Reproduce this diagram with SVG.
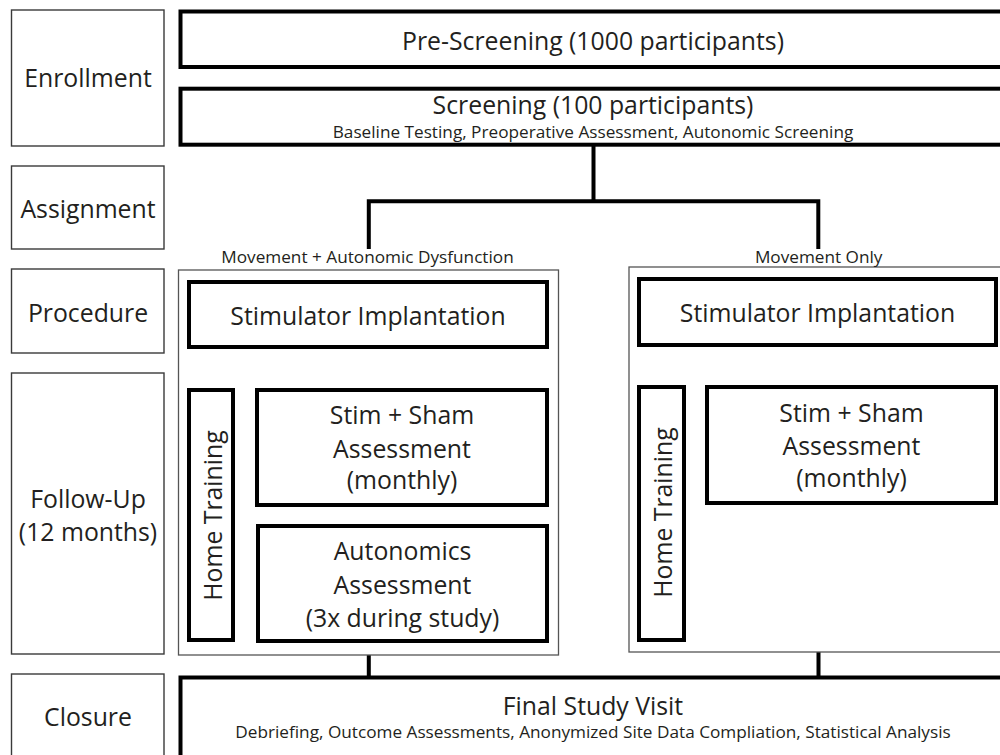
<svg xmlns="http://www.w3.org/2000/svg" width="1000" height="755" viewBox="0 0 1000 755">
<style>
text{font-family:"Open Sans","Noto Sans","Liberation Sans",sans-serif;fill:#231f20;text-anchor:middle}
.lbl{fill:#fff;stroke:#3a3a3a;stroke-width:1.4}
.grp{fill:none;stroke:#555;stroke-width:1.3}
.box{fill:#fff;stroke:#000;stroke-width:4}
.big{font-size:24.8px}
.sm{font-size:17.2px}
.conn{fill:none;stroke:#000;stroke-width:4}
</style>
<rect width="1000" height="755" fill="#fff"/>
<g id="phase-enrollment"><rect class="lbl" x="11.5" y="10" width="152.5" height="136"/><text class="big" x="88" y="87">Enrollment</text></g>
<g id="phase-assignment"><rect class="lbl" x="11.5" y="166" width="152.5" height="83"/><text class="big" x="88" y="218">Assignment</text></g>
<g id="phase-procedure"><rect class="lbl" x="11.5" y="269" width="152.5" height="84"/><text class="big" x="88" y="322">Procedure</text></g>
<g id="phase-followup"><rect class="lbl" x="11.5" y="373" width="152.5" height="281"/><text class="big" x="88" y="508">Follow-Up</text><text class="big" x="88" y="541">(12 months)</text></g>
<g id="phase-closure"><rect class="lbl" x="11.5" y="674" width="152.5" height="100"/><text class="big" x="88" y="726">Closure</text></g>

<g id="prescreening"><rect class="box" x="180.5" y="11.5" width="840" height="55.5"/><text class="big" x="593" y="50">Pre-Screening (1000 participants)</text></g>
<g id="screening"><rect class="box" x="180.5" y="88.7" width="840" height="56"/><text class="big" x="593" y="114">Screening (100 participants)</text><text class="sm" x="593" y="138">Baseline Testing, Preoperative Assessment, Autonomic Screening</text></g>

<g id="connectors">
<path class="conn" d="M593.5 146 V201.3 M368.8 249 V201.3 H818.3 V249"/>
<path class="conn" d="M368.8 655 V677 M818.5 652 V677"/>
</g>

<g id="group-mad"><rect class="grp" x="178.5" y="270" width="380" height="385"/><text class="sm" x="367.5" y="263">Movement + Autonomic Dysfunction</text></g>
<g id="group-mo"><rect class="grp" x="629" y="267" width="400" height="385"/><text class="sm" x="818.7" y="263">Movement Only</text></g>

<g id="stim-impl-left"><rect class="box" x="189" y="282" width="358" height="65"/><text class="big" x="368" y="325">Stimulator Implantation</text></g>
<g id="home-left"><rect class="box" x="189" y="390" width="44" height="250"/><text class="big" transform="translate(221.5 515.5) rotate(-90)">Home Training</text></g>
<g id="stimsham-left"><rect class="box" x="257" y="390" width="290" height="115"/><text class="big" x="402" y="424">Stim + Sham</text><text class="big" x="402" y="457.5">Assessment</text><text class="big" x="402" y="489">(monthly)</text></g>
<g id="autonomics-left"><rect class="box" x="258" y="526" width="289" height="115"/><text class="big" x="402.5" y="560">Autonomics</text><text class="big" x="402.5" y="594">Assessment</text><text class="big" x="402.5" y="627">(3x during study)</text></g>

<g id="stim-impl-right"><rect class="box" x="639" y="279" width="357" height="66"/><text class="big" x="817.5" y="322">Stimulator Implantation</text></g>
<g id="home-right"><rect class="box" x="639" y="387" width="45" height="253"/><text class="big" transform="translate(671.7 512.5) rotate(-90)">Home Training</text></g>
<g id="stimsham-right"><rect class="box" x="707" y="387" width="289" height="116"/><text class="big" x="851.5" y="422">Stim + Sham</text><text class="big" x="851.5" y="455">Assessment</text><text class="big" x="851.5" y="487">(monthly)</text></g>

<g id="final"><rect class="box" x="180.5" y="677.5" width="840" height="100"/><text class="big" x="593" y="715">Final Study Visit</text><text class="sm" x="593" y="738">Debriefing, Outcome Assessments, Anonymized Site Data Compliation, Statistical Analysis</text></g>
</svg>
